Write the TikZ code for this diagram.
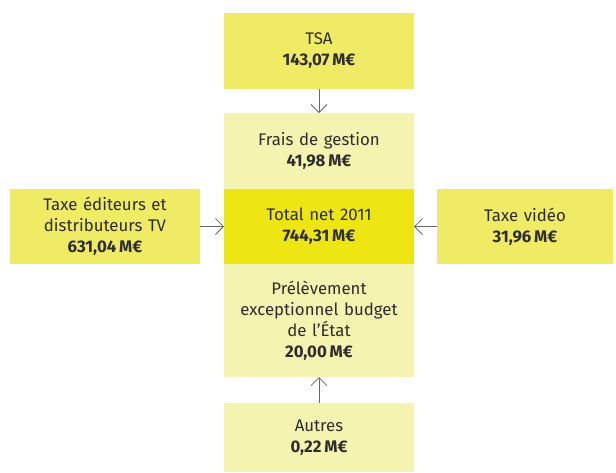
\documentclass[tikz,border=0pt]{standalone}
\usepackage{fontspec}
\setmainfont{Fira Sans}
\usetikzlibrary{positioning,arrows.meta}
\definecolor{jaune}{RGB}{240,235,100}
\definecolor{pale}{RGB}{245,243,176}
\definecolor{vif}{RGB}{238,230,18}
\definecolor{texte}{RGB}{45,45,45}
\tikzset{
	boite/.style={fill=#1, text=texte, minimum width=190pt, text width=180pt,
		align=center, inner sep=0pt, outer sep=0pt,
		font=\fontsize{16.8}{21}\selectfont},
	fleche/.style={draw=black!60, line width=0.8pt,
		-{Straight Barb[length=8pt,width=16pt]}}
}
\newcommand{\montant}[1]{\textbf{#1\,M€}}
\begin{document}
\begin{tikzpicture}
\useasboundingbox (0,0) rectangle (616pt,-472pt);
\node[boite=jaune, minimum height=76pt] (tsa) at (319pt,-51pt)
	{TSA\\ \montant{143,07}};
\node[boite=pale, minimum height=76pt, below=24pt of tsa] (frais)
	{Frais de gestion\\ \montant{41,98}};
\node[boite=vif, minimum height=75pt, below=0pt of frais] (total)
	{Total net 2011\\ \montant{744,31}};
\node[boite=pale, minimum height=113pt, below=0pt of total] (prelev)
	{Prélèvement\\ exceptionnel budget\\ de l’État\\ \montant{20,00}};
\node[boite=pale, minimum height=69pt, below=26pt of prelev] (autres)
	{Autres\\ \montant{0,22}};
\node[boite=jaune, minimum height=75pt, left=24pt of total] (editeurs)
	{Taxe éditeurs et\\ distributeurs TV\\ \montant{631,04}};
\node[boite=jaune, minimum height=75pt, minimum width=176pt, text width=166pt,
	right=23pt of total] (video)
	{Taxe vidéo\\ \montant{31,96}};
\draw[fleche] (tsa) -- (frais);
\draw[fleche] (editeurs) -- (total);
\draw[fleche] (video) -- (total);
\draw[fleche] (autres) -- (prelev);
\end{tikzpicture}
\end{document}
